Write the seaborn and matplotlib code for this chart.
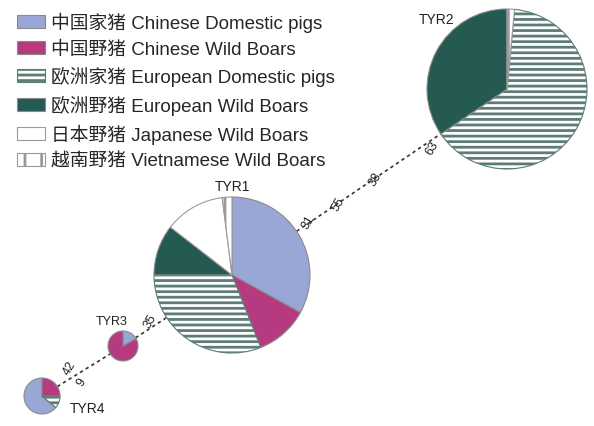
import matplotlib
matplotlib.use("Agg")
import matplotlib.pyplot as plt
from matplotlib.patches import Patch
import seaborn as sns
import numpy as np

sns.set_theme(style="white")
plt.rcParams['font.family'] = ['Liberation Sans', 'Noto Sans CJK SC', 'DejaVu Sans']
plt.rcParams['hatch.linewidth'] = 2.0

# ---- data ----
groups = ["中国家猪 Chinese Domestic pigs", "中国野猪 Chinese Wild Boars",
          "欧洲家猪 European Domestic pigs", "欧洲野猪 European Wild Boars",
          "日本野猪 Japanese Wild Boars", "越南野猪 Vietnamese Wild Boars"]
haplotypes = ["TYR1", "TYR2", "TYR3", "TYR4"]
# share of each group within each haplotype (percent)
tyr1 = [33, 11, 31, 10.5, 12.5, 2]
tyr2 = [0, 0, 64, 34.5, 0, 1.5]
tyr3 = [17, 83, 0, 0, 0, 0]
tyr4 = [64, 25, 11, 0, 0, 0]
hap_size = [78, 80, 15, 18]          # relative haplotype frequency (radius)
mutations = [["42", "9"], ["35"], ["31", "55", "38", "63"]]

# ---- style / layout ----
colors = ["#9aa6d6", "#b63a80", "white", "#245a52", "white", "white"]
edges = ["#8a8a8a", "#8a8a8a", "#5d7c77", "#8a8a8a", "#9a9a9a", "#9a9a9a"]
hatches = [None, None, "---", None, None, "|"]
W, H = 594, 427
centers_px = {"TYR1": (232, 276), "TYR2": (507, 90), "TYR3": (123, 347), "TYR4": (42, 397)}
starts = {"TYR1": 90, "TYR2": 90 - 3.6 * tyr2[5], "TYR3": 90, "TYR4": -40}
shares = {"TYR1": tyr1, "TYR2": tyr2, "TYR3": tyr3, "TYR4": tyr4}

fig = plt.figure(figsize=(W / 100, H / 100), dpi=100)
ax = fig.add_axes([0, 0, 1, 1])

def c(name):
    x, y = centers_px[name]
    return (x, H - y)

# connecting dashed lines
chain = ["TYR4", "TYR3", "TYR1", "TYR2"]
for a, b in zip(chain[:-1], chain[1:]):
    (x0, y0), (x1, y1) = c(a), c(b)
    ra = hap_size[haplotypes.index(a)]
    rb = hap_size[haplotypes.index(b)]
    d = np.hypot(x1 - x0, y1 - y0)
    ux, uy = (x1 - x0) / d, (y1 - y0) / d
    ax.plot([x0 + ux * ra, x1 - ux * rb], [y0 + uy * ra, y1 - uy * rb],
            ls=(0, (2, 2)), color="#333333", lw=1.2, zorder=1)

# pies
for i, name in enumerate(haplotypes):
    vals = shares[name]
    idx = [k for k, v in enumerate(vals) if v > 0]
    wedges, _ = ax.pie([vals[k] for k in idx], colors=[colors[k] for k in idx],
                       startangle=starts[name], counterclock=False,
                       center=c(name), radius=hap_size[i],
                       wedgeprops=dict(linewidth=0.8), frame=True)
    for w, k in zip(wedges, idx):
        w.set_edgecolor(edges[k])
        if hatches[k]:
            w.set_hatch(hatches[k])
        w.set_zorder(3)

# haplotype labels
ax.text(232, H - 187, "TYR1", ha="center", va="center", fontsize=10, color="#222222")
ax.text(437, H - 20, "TYR2", ha="center", va="center", fontsize=10, color="#222222")
ax.text(112, H - 322, "TYR3", ha="center", va="center", fontsize=9, color="#222222")
ax.text(88, H - 409, "TYR4", ha="center", va="center", fontsize=10, color="#222222")

# mutation labels along links
mut_pos = [[(70, 368), (82, 382)], [(150, 322)], [(308, 222), (338, 205), (375, 180), (432, 148)]]
for labs, poss in zip(mutations, mut_pos):
    for lab, (x, y) in zip(labs, poss):
        ax.text(x, H - y, lab, ha="center", va="center", fontsize=9, rotation=60, color="#222222")

# legend
handles = [Patch(facecolor=colors[k], edgecolor=edges[k], hatch=hatches[k], linewidth=0.8)
           for k in range(len(groups))]
leg = ax.legend(handles, groups, loc="upper left", bbox_to_anchor=(9 / W, 1 - 5 / H),
                frameon=False, fontsize=13.5, handlelength=1.5, handleheight=0.7,
                labelspacing=0.46, handletextpad=0.35, borderaxespad=0)

ax.set_xlim(0, W)
ax.set_ylim(0, H)
ax.set_aspect("auto")
ax.axis("off")
fig.savefig("out.png", dpi=100, facecolor="white")
